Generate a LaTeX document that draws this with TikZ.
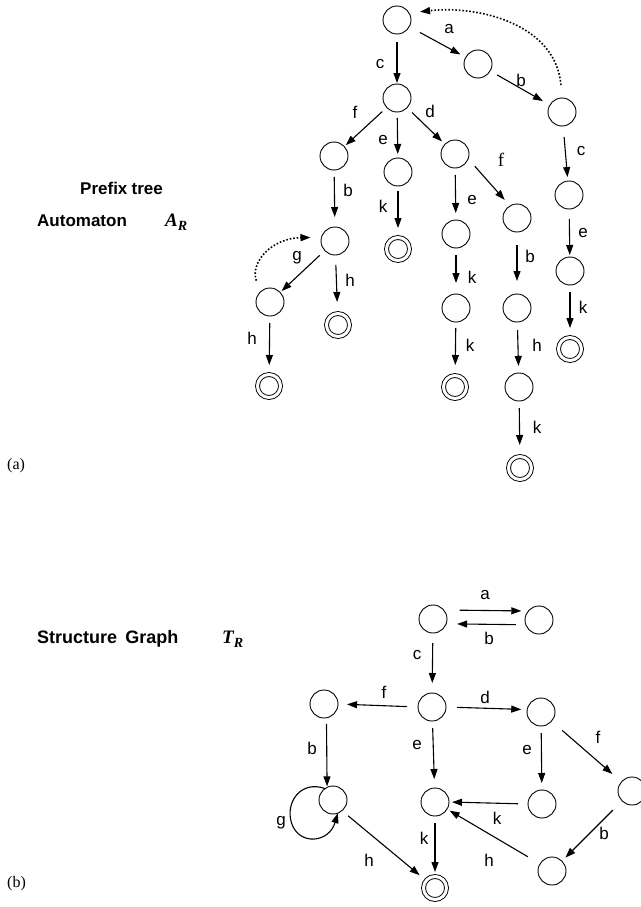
\documentclass[tikz,border=0pt]{standalone}
\usepackage{fontspec}
\setmainfont{Liberation Sans}
\newfontfamily\tnr{Liberation Serif}
\usetikzlibrary{arrows.meta}
\begin{document}
\begin{tikzpicture}[x=1pt,y=-1pt,
  st/.style={circle,draw,line width=0.9pt,minimum size=28pt,inner sep=0pt,outer sep=0pt},
  fin/.style={circle,draw,line width=0.9pt,double,double distance=3pt,minimum size=23pt,inner sep=0pt,outer sep=2.5pt},
  arr/.style={-{Triangle[length=10pt,width=7pt]},line width=1.1pt},
  gap/.style 2 args={shorten <=#1pt,shorten >=#2pt},
  dotarr/.style={line width=1.6pt,dash pattern=on 1.6pt off 1.9pt,-{Triangle[length=10pt,width=7pt]}},
  lbl/.style={font=\fontsize{17}{17}\selectfont,inner sep=0pt},
  slbl/.style={font=\tnr\fontsize{19}{19}\selectfont,inner sep=0pt},
  title/.style={font=\bfseries\fontsize{17}{17}\selectfont,inner sep=0pt,anchor=base west},
  sym/.style={font=\tnr\bfseries\itshape\fontsize{19}{19}\selectfont,inner sep=0pt,anchor=base west},
  tag/.style={font=\tnr\fontsize{16}{16}\selectfont,inner sep=0pt,anchor=west}
]
\useasboundingbox (0,0) rectangle (640,907);

% ---------------- (a) prefix tree automaton ----------------
\node[st]  (r0)  at (397,20)  {};
\node[st]  (na)  at (478,64)  {};
\node[st]  (nb)  at (562,112) {};
\node[st]  (nc)  at (397,98)  {};
\node[st]  (nf)  at (334,156) {};
\node[st]  (ne)  at (398,172) {};
\node[st]  (nd)  at (455,154) {};
\node[st]  (nc2) at (569,195) {};
\node[st]  (nf2) at (517,218) {};
\node[st]  (ne2) at (456,234) {};
\node[st]  (nb1) at (335,241) {};
\node[fin] (kk1) at (398,249) {};
\node[st]  (ne3) at (570,271) {};
\node[st]  (ng)  at (270,302) {};
\node[fin] (hh1) at (338,325) {};
\node[st]  (nk2) at (456,308) {};
\node[st]  (nb2) at (517,308) {};
\node[fin] (kk3) at (570,349) {};
\node[fin] (hh2) at (269,386) {};
\node[fin] (kk2) at (455,387) {};
\node[st]  (nh)  at (519,387) {};
\node[fin] (kk4) at (520,468) {};

\draw[arr,gap={12}{6}]  (r0) -- (na);
\draw[arr,gap={8}{8}]   (na) -- (nb);
\draw[dotarr,gap={13}{11}] (nb.north) .. controls (556,25) and (480,5) .. (r0.30);
\draw[arr,gap={8}{1}]   (r0) -- (nc);
\draw[arr,gap={6}{2}]   (nc) -- (nf);
\draw[arr,gap={6}{4}]   (nc) -- (ne);
\draw[arr,gap={7}{4}]   (nc) -- (nd);
\draw[arr,gap={11}{4}]  (nb) -- (nc2);
\draw[arr,gap={10}{8}]  (nd.-20) -- (nf2.120);
\draw[arr,gap={7}{10}]  (nf) -- (nb1);
\draw[arr,gap={5}{7}]   (ne) -- (kk1);
\draw[arr,gap={7}{7}]   (nd) -- (ne2);
\draw[arr,gap={13}{13}] (nf2) -- (nb2);
\draw[arr,gap={10}{2}]  (nc2) -- (ne3);
\draw[arr,gap={7}{2}]   (nb1) -- (ng);
\draw[arr,gap={10}{9}]  (nb1) -- (hh1);
\draw[dotarr,gap={12}{11}] (ng.135) .. controls (250,262) and (272,238) .. (nb1.165);
\draw[arr,gap={7}{11}]  (ne2) -- (nk2);
\draw[arr,gap={7}{7}]   (ne3) -- (kk3);
\draw[arr,gap={7}{7}]   (ng) -- (hh2);
\draw[arr,gap={6}{8}]   (nk2) -- (kk2);
\draw[arr,gap={8}{7}]   (nb2) -- (nh);
\draw[arr,gap={7}{9}]   (nh) -- (kk4);

\node[lbl]  (la)  at (449,29)  {a};
\node[lbl]  (lb1) at (521,80)  {b};
\node[lbl]  (lc1) at (380,64)  {c};
\node[lbl]  (lf1) at (355,112) {f};
\node[lbl]  (le1) at (383,140) {e};
\node[lbl]  (ld1) at (430,111) {d};
\node[lbl]  (lc2) at (581,151) {c};
\node[slbl] (lf2) at (501,160) {f};
\node[lbl]  (lb2) at (348,190) {b};
\node[lbl]  (lk1) at (383,206) {k};
\node[lbl]  (le2) at (472,200) {e};
\node[lbl]  (lb3) at (530,256) {b};
\node[lbl]  (le3) at (583,233) {e};
\node[lbl]  (lg)  at (297,258) {g};
\node[lbl]  (lh1) at (350,280) {h};
\node[lbl]  (lk2) at (472,277) {k};
\node[lbl]  (lk3) at (583,307) {k};
\node[lbl]  (lh2) at (252,338) {h};
\node[lbl]  (lk4) at (470,345) {k};
\node[lbl]  (lh3) at (537,345) {h};
\node[lbl]  (lk5) at (537,427) {k};

\node[title] (ta1) at (80,194)  {Prefix\hspace{0.25em}tree};
\node[title] (ta2) at (37,226)  {Automaton};
\node[sym]   (ta3) at (165,226) {A\raisebox{-0.22em}{\fontsize{14}{14}\selectfont R}};
\node[tag]   (tga) at (7,466)   {(a)};

% ---------------- (b) structure graph ----------------
\node[st]  (TL) at (433,619) {};
\node[st]  (TR) at (539,620) {};
\node[st]  (C)  at (432,707) {};
\node[st]  (L)  at (324,704) {};
\node[st]  (D)  at (541,712) {};
\node[st]  (C2) at (435,802) {};
\node[st]  (E)  at (542,804) {};
\node[st]  (G)  at (333,800) {};
\node[st]  (F)  at (632,791) {};
\node[st]  (B)  at (552,871) {};
\node[fin] (K)  at (435,888) {};

\draw[arr,gap={16}{7}]  (TL.40) -- (TR.140);
\draw[arr,gap={10}{11}] (TR.200) -- (TL.-20);
\draw[arr,gap={10}{10}] (TL) -- (C);
\draw[arr,gap={11}{9}]  (C.west) -- (L.east);
\draw[arr,gap={11}{6}]  (C.east) -- (D.170);
\draw[arr,gap={6}{1}]   (L.-80) -- (G.115);
\draw[arr,gap={7}{9}]   (C) -- (C2);
\draw[arr,gap={7}{7}]   (D) -- (E);
\draw[arr,gap={14}{12}] (D) -- (F);
\draw[arr,gap={10}{3}]  (E.west) -- (C2.east);
\draw[arr,gap={13}{5}]  (F) -- (B);
\draw[arr,gap={14}{3}]  (B) -- (C2);
\draw[arr,gap={7}{2}]   (C2) -- (K);
\draw[arr,gap={8}{6}]   (G.-50) -- (K.140);
\draw[arr] (G.125) .. controls (301,780) and (285,802) .. (291.5,823)
                   .. controls (299,846) and (329,843) .. (G.-70);

\node[lbl] (pa)  at (485,595) {a};
\node[lbl] (pb)  at (489,638) {b};
\node[lbl] (pc)  at (417,655) {c};
\node[lbl] (pf)  at (384,692) {f};
\node[lbl] (pd)  at (485,697) {d};
\node[lbl] (pb2) at (312,748) {b};
\node[lbl] (pe)  at (417,745) {e};
\node[lbl] (pe2) at (527,750) {e};
\node[lbl] (pf2) at (598,737) {f};
\node[lbl] (pk)  at (497,818) {k};
\node[lbl] (pb3) at (604,833) {b};
\node[lbl] (ph)  at (489,860) {h};
\node[lbl] (pk2) at (424,838) {k};
\node[lbl] (ph2) at (369,860) {h};
\node[lbl] (pg)  at (281,823) {g};

\node[title,font=\bfseries\fontsize{18}{18}\selectfont] (tb1) at (37,643)  {Structure\hspace{0.45em}Graph};
\node[sym]   (tb2) at (222,643) {T\raisebox{-0.22em}{\fontsize{14}{14}\selectfont R}};
\node[tag]   (tgb) at (7,884)   {(b)};
\end{tikzpicture}
\end{document}
